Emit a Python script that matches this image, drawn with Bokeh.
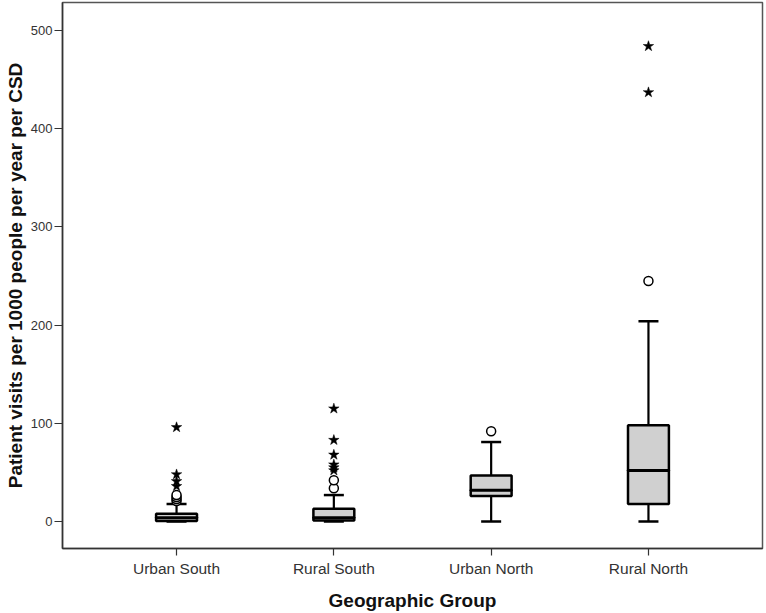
from bokeh.plotting import figure
from bokeh.models import FactorRange, Range1d, FixedTicker, ColumnDataSource
from bokeh.embed import file_html
from bokeh.resources import INLINE

categories = ["Urban South", "Rural South", "Urban North", "Rural North"]
lower = [0, 0, 0, 0]
q1 = [0.5, 1, 26, 18]
median = [4, 4, 32, 52]
q3 = [8, 13, 47, 98]
upper = [18, 27, 81, 204]

circle_cats = ["Urban South"] * 4 + ["Rural South"] * 2 + ["Urban North", "Rural North"]
circle_vals = [21, 23, 25, 27, 34, 42, 92, 245]
star_cats = ["Urban South"] * 4 + ["Rural South"] * 6 + ["Rural North"] * 2
star_vals = [36, 41, 48, 96, 52, 55, 58, 68, 83, 115, 437, 484]

yticks = [0, 100, 200, 300, 400, 500]

FONT = "Liberation Sans"

p = figure(
    width=766, height=613,
    x_range=FactorRange(factors=categories, range_padding=0.1125, range_padding_units="percent"),
    y_range=Range1d(-27.4, 528.5),
    output_backend="svg", toolbar_location=None,
    min_border_left=62, min_border_right=4, min_border_top=2, min_border_bottom=64,
)
p.background_fill_color = "white"
p.border_fill_color = "white"
p.xgrid.visible = False
p.ygrid.visible = False
p.outline_line_color = "#555555"
p.outline_line_width = 1.5

src = ColumnDataSource(dict(cat=categories, lower=lower, q1=q1, med=median, q3=q3, upper=upper))

# whiskers
p.segment(x0="cat", y0="q3", x1="cat", y1="upper", source=src, line_color="black", line_width=2.2)
p.segment(x0="cat", y0="lower", x1="cat", y1="q1", source=src, line_color="black", line_width=2.2)
p.scatter(x="cat", y="upper", source=src, marker="dash", size=20, line_color="black", line_width=2.5)
p.scatter(x="cat", y="lower", source=src, marker="dash", size=20, line_color="black", line_width=2.5)

# boxes
p.vbar(x="cat", bottom="q1", top="q3", width=0.26, source=src,
       fill_color="#d0d0d0", line_color="black", line_width=2.5)
p.rect(x="cat", y="med", width=0.26, height=0.0001, source=src,
       fill_alpha=0, line_color="black", line_width=3)

# outliers
p.scatter(x=circle_cats, y=circle_vals, marker="circle", size=9,
          fill_color="white", line_color="black", line_width=1.5)
p.scatter(x=star_cats, y=star_vals, marker="star", size=11,
          fill_color="black", line_color="black", line_width=0.5)

# axes
p.yaxis.ticker = FixedTicker(ticks=yticks)
p.yaxis.minor_tick_line_color = None
p.yaxis.major_tick_out = 8
p.yaxis.major_tick_in = 0
p.yaxis.major_label_standoff = 2
p.yaxis.axis_label = "Patient visits per 1000 people per year per CSD"
p.yaxis.axis_label_standoff = 2

p.xaxis.major_tick_out = 7
p.xaxis.major_tick_in = 0
p.xaxis.major_label_standoff = 4
p.xaxis.axis_label = "Geographic Group"
p.xaxis.axis_label_standoff = 10

for ax in (p.xaxis[0], p.yaxis[0]):
    ax.axis_line_color = "#333333"
    ax.axis_line_width = 1.5
    ax.major_tick_line_color = "#333333"
    ax.major_tick_line_width = 1.2
    ax.major_label_text_font = FONT
    ax.major_label_text_color = "#333333"
    ax.axis_label_text_font = FONT
    ax.axis_label_text_font_style = "bold"
    ax.axis_label_text_color = "#111111"

p.xaxis.major_label_text_font_size = "15.5px"
p.yaxis.major_label_text_font_size = "13px"
p.xaxis.axis_label_text_font_size = "19px"
p.yaxis.axis_label_text_font_size = "19px"

open("out.html", "w").write(file_html(p, INLINE))
